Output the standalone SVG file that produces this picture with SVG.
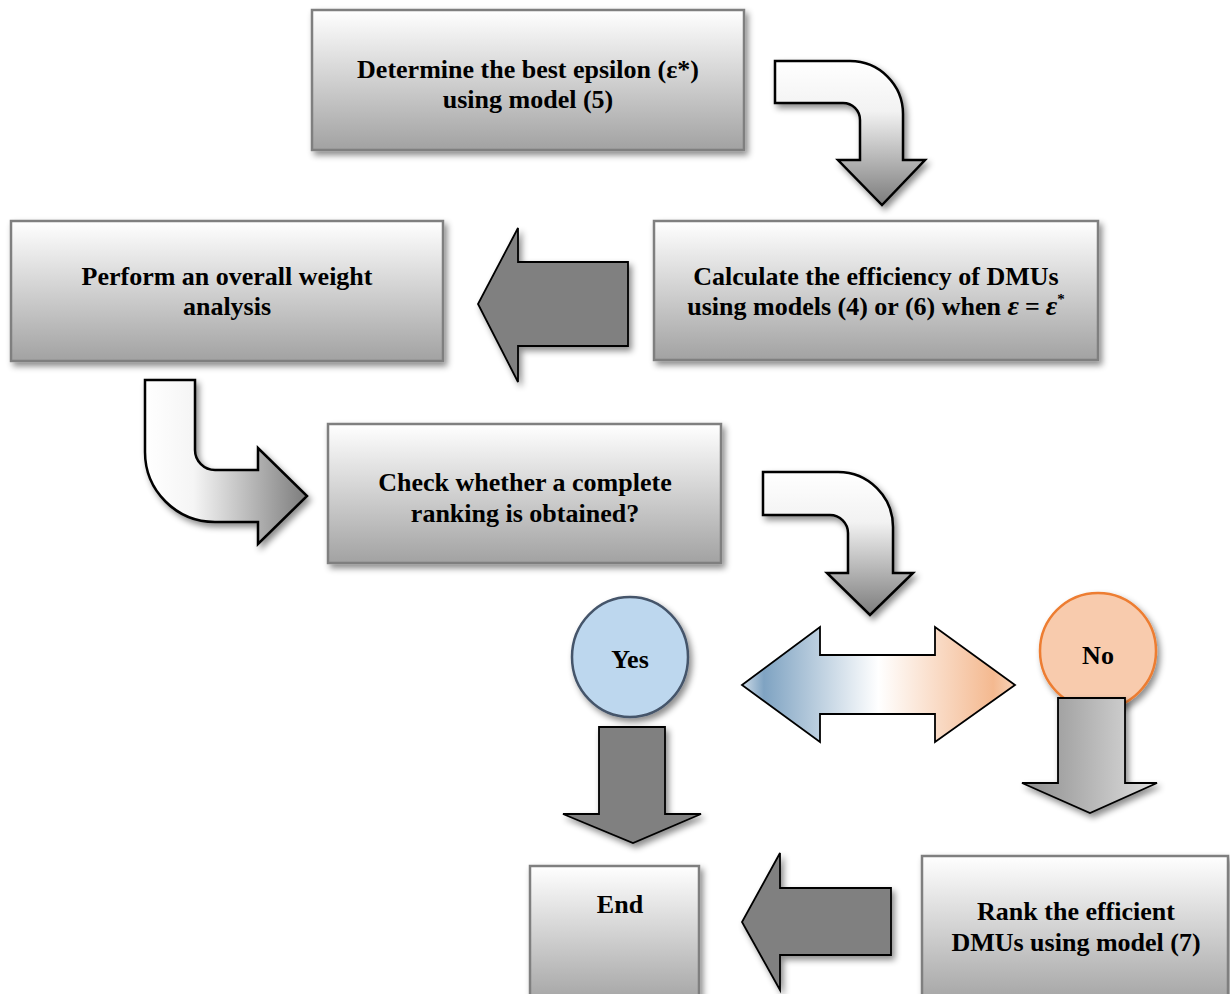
<svg xmlns="http://www.w3.org/2000/svg" width="1230" height="994" viewBox="0 0 1230 994">
<defs>
<linearGradient id="gBox" x1="0" y1="0" x2="0" y2="1">
<stop offset="0" stop-color="#ffffff"/><stop offset="1" stop-color="#a2a2a2"/>
</linearGradient>
<linearGradient id="gBentV" x1="0" y1="0" x2="0" y2="1">
<stop offset="0" stop-color="#ffffff"/><stop offset="0.35" stop-color="#f2f2f2"/><stop offset="1" stop-color="#7c7c7c"/>
</linearGradient>
<linearGradient id="gBentH" x1="0" y1="0" x2="1" y2="0">
<stop offset="0" stop-color="#ffffff"/><stop offset="0.3" stop-color="#f5f5f5"/><stop offset="1" stop-color="#7c7c7c"/>
</linearGradient>
<linearGradient id="gDbl" x1="0" y1="0" x2="1" y2="0">
<stop offset="0" stop-color="#cfdce8"/><stop offset="0.08" stop-color="#7fa3c2"/><stop offset="0.5" stop-color="#ffffff"/><stop offset="0.92" stop-color="#f4b990"/><stop offset="1" stop-color="#f6d2b8"/>
</linearGradient>
<linearGradient id="gNo" x1="0" y1="0" x2="1" y2="0">
<stop offset="0" stop-color="#8c8c8c"/><stop offset="1" stop-color="#e0e0e0"/>
</linearGradient>
<filter id="sh" x="-20%" y="-20%" width="150%" height="150%">
<feDropShadow dx="3" dy="4" stdDeviation="3" flood-color="#000" flood-opacity="0.45"/>
</filter>
</defs>
<style>
.box{fill:url(#gBox);stroke:#7f7f7f;stroke-width:2.5;filter:url(#sh)}
.t{font-family:"Liberation Serif","Times New Roman",serif;font-weight:bold;font-size:26px;fill:#000;text-anchor:middle}
.solid{fill:#808080;stroke:#000;stroke-width:1.8;stroke-linejoin:miter;filter:url(#sh)}
.bentV{fill:url(#gBentV);stroke:#000;stroke-width:2.5;filter:url(#sh)}
.bentH{fill:url(#gBentH);stroke:#000;stroke-width:2.5;filter:url(#sh)}
</style>
<rect width="1230" height="994" fill="#ffffff"/>

<g id="node-epsilon">
<rect class="box" x="312" y="10" width="432" height="140"/>
<text class="t" x="528" y="78">Determine the best epsilon (ε*)</text>
<text class="t" x="528" y="108">using model (5)</text>
</g>

<g id="node-efficiency">
<rect class="box" x="654" y="221" width="444" height="139"/>
<text class="t" x="876" y="285">Calculate the efficiency of DMUs</text>
<text class="t" x="876" y="315">using models (4) or (6) when <tspan font-style="italic" font-size="28">ε</tspan><tspan dx="6">=</tspan><tspan dx="6" font-style="italic" font-size="28">ε</tspan><tspan font-size="15" dy="-11">*</tspan></text>
</g>

<g id="node-weight">
<rect class="box" x="11" y="221" width="432" height="140"/>
<text class="t" x="227" y="285">Perform an overall weight</text>
<text class="t" x="227" y="315">analysis</text>
</g>

<g id="node-check">
<rect class="box" x="328" y="424" width="393" height="139"/>
<text class="t" x="525" y="491">Check whether a complete</text>
<text class="t" x="525" y="522">ranking is obtained?</text>
</g>

<g id="node-yes">
<ellipse cx="630" cy="657" rx="58" ry="60" fill="#bdd7ee" stroke="#44546a" stroke-width="2.5" filter="url(#sh)"/>
<text class="t" x="630" y="668" font-size="25">Yes</text>
</g>

<g id="node-no">
<ellipse cx="1098" cy="651" rx="58" ry="58" fill="#f8cbad" stroke="#ed7d31" stroke-width="2.5" filter="url(#sh)"/>
<text class="t" x="1098" y="664">No</text>
</g>

<g id="node-end">
<rect class="box" x="530" y="866" width="169" height="140"/>
<text class="t" x="620" y="913" font-size="31">End</text>
</g>

<g id="node-rank">
<rect class="box" x="922" y="856" width="306" height="150"/>
<text class="t" x="1076" y="920">Rank the efficient</text>
<text class="t" x="1076" y="951">DMUs using model (7)</text>
</g>

<g id="connectors">
<path class="bentV" d="M775,61 H850 A53,53 0 0 1 903,114 V160 H925 L882,205 L838,160 H860 V120 A17,17 0 0 0 843,103 H775 Z"/>
<path class="solid" d="M628,262 H518 V228 L478,304 L518,382 V346 H628 Z"/>
<path class="bentH" d="M145,380 H195 V450 A20,20 0 0 0 215,470 H258 V448 L307,496 L258,544 V522 H215 A70,70 0 0 1 145,452 Z"/>
<path class="bentV" d="M763,472 H838 A55,55 0 0 1 893,527 V573 H913 L870,615 L827,573 H848 V533 A18,18 0 0 0 830,515 H763 Z"/>
<path d="M742,685 L820,627 V655 H935 V627 L1015,685 L935,742 V714 H820 V742 Z" fill="url(#gDbl)" stroke="#000" stroke-width="1.8"/>
<path class="solid" d="M599,727 H665 V814 H701 L633,843 L563,814 H599 Z"/>
<path d="M1058,698 H1125 V783 H1157 L1090,813 L1022,783 H1058 Z" fill="url(#gNo)" stroke="#000" stroke-width="1.8" filter="url(#sh)"/>
<path class="solid" d="M891,888 H780 V853 L742,922 L780,990 V955 H891 Z"/>
</g>
</svg>
